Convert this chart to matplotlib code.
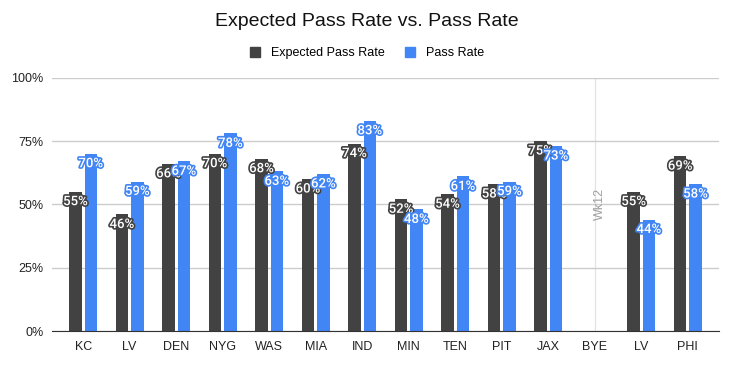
import matplotlib
matplotlib.use("Agg")
import matplotlib.pyplot as plt
import matplotlib.patheffects as pe
import numpy as np

categories = ["KC", "LV", "DEN", "NYG", "WAS", "MIA", "IND", "MIN", "TEN", "PIT", "JAX", "BYE", "LV", "PHI"]
expected = [55, 46, 66, 70, 68, 60, 74, 52, 54, 58, 75, None, 55, 69]
actual = [70, 59, 67, 78, 63, 62, 83, 48, 61, 59, 73, None, 44, 58]
series_names = ["Expected Pass Rate", "Pass Rate"]
colors = ["#424242", "#4285F4"]
yticks = [0, 25, 50, 75, 100]
bye_label = "Wk12"
bye_index = 11

plt.rcParams['font.family'] = ['Liberation Sans', 'DejaVu Sans']

fig = plt.figure(figsize=(7.34, 3.66), dpi=100)
ax = fig.add_axes([0.0708, 0.0956, 0.9796 - 0.0708, 0.6921])

x = np.arange(len(categories))
bw = 0.27
offs = [-0.165, 0.165]
for vals, off, col in zip([expected, actual], offs, colors):
    xs = [xi + off for xi, v in zip(x, vals) if v is not None]
    vs = [v for v in vals if v is not None]
    ax.bar(xs, vs, width=bw, color=col, zorder=3)
    for xi, v in zip(xs, vs):
        ax.annotate(f"{v}%", (xi, v), xytext=(0, -10), textcoords="offset pixels",
                    ha="center", va="center", fontsize=9.5, color="white",
                    family="Roboto", fontweight="medium", zorder=5,
                    path_effects=[pe.withStroke(linewidth=2.4, foreground=col)])

ax.axvline(bye_index, color="#e3e3e3", lw=0.9, zorder=1)
ax.text(bye_index + 0.1, 50, bye_label, rotation=90, ha="center", va="center",
        fontsize=9, color="#9e9e9e")

ax.set_xlim(-0.67, len(categories) - 1 + 0.67)
ax.set_ylim(0, 100)
ax.set_yticks(yticks)
ax.set_yticklabels([f"{t}%" for t in yticks])
ax.set_xticks(x)
ax.set_xticklabels(categories)
ax.tick_params(length=0, labelsize=9, colors="#222222")
ax.tick_params(axis="x", pad=7)
ax.tick_params(axis="y", pad=6)
ax.grid(axis="y", color="#cccccc", lw=1, zorder=0)
for s in ["top", "right", "left"]:
    ax.spines[s].set_visible(False)
ax.spines["bottom"].set_color("#333333")
ax.spines["bottom"].set_zorder(4)

fig.text(0.5, 0.94, "Expected Pass Rate vs. Pass Rate", ha="center", va="center", fontsize=14, color="#111111")

from matplotlib.patches import Patch
handles = [Patch(color=c, label=n) for c, n in zip(colors, series_names)]
fig.legend(handles=handles, loc="center", bbox_to_anchor=(0.5, 0.855), ncol=2, frameon=False,
           fontsize=9, handlelength=0.8, handleheight=0.8, handletextpad=0.9, columnspacing=1.6)

fig.savefig("out.png", dpi=100, facecolor="white")
